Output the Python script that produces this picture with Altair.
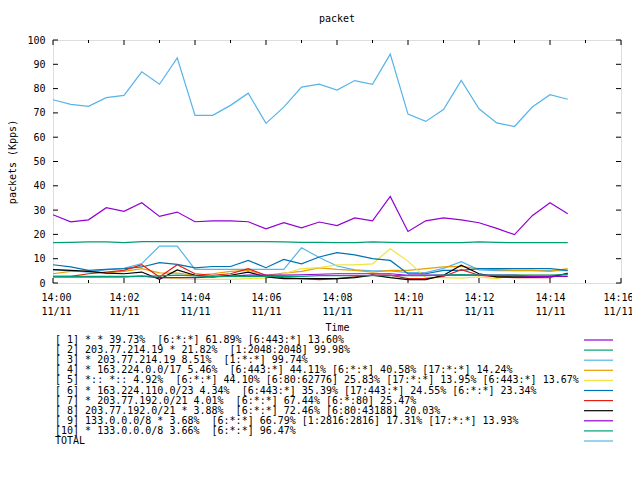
import altair as alt
import pandas as pd

# ---------------- data ----------------
times = [f"2020-11-11T14:{(i * 30) // 60:02d}:{(i * 30) % 60:02d}" for i in range(30)]

s1 = [28.1, 25.2, 26.0, 31.0, 29.5, 33.0, 27.4, 29.2, 25.2, 25.6, 25.6, 25.2, 22.3, 24.8, 22.7,
      25.1, 23.6, 26.8, 25.6, 35.6, 21.2, 25.6, 26.8, 26.0, 24.8, 22.5, 19.9, 27.7, 33.0, 28.5]
s2 = [16.6, 16.7, 16.9, 16.9, 16.6, 17.0, 17.0, 17.0, 17.0, 17.0, 17.0, 17.0, 17.0, 16.9, 16.7,
      16.7, 16.6, 16.6, 16.9, 16.7, 16.6, 16.6, 16.6, 16.6, 16.9, 16.7, 16.6, 16.6, 16.6, 16.6]
s3 = [5.5, 5.0, 4.5, 5.5, 6.0, 8.0, 15.2, 15.2, 5.6, 5.6, 5.6, 5.6, 5.6, 5.6, 14.5,
      10.5, 7.0, 5.4, 5.0, 5.0, 4.3, 4.3, 6.0, 8.8, 5.4, 5.1, 5.1, 5.1, 5.1, 5.1]
s4 = [3.8, 4.8, 4.8, 4.2, 4.8, 5.9, 4.2, 4.1, 3.2, 3.8, 4.8, 5.2, 3.2, 4.1, 4.8,
      6.2, 5.6, 5.2, 4.5, 5.2, 5.2, 5.9, 6.6, 6.8, 5.9, 5.5, 5.2, 5.2, 4.8, 5.9]
s5 = [2.5, 2.3, 2.3, 2.5, 2.5, 2.8, 2.2, 1.8, 1.5, 1.5, 1.5, 1.8, 2.0, 3.8, 5.9,
      6.3, 7.5, 7.5, 7.9, 14.1, 9.0, 2.2, 2.2, 2.0, 2.5, 1.8, 3.3, 3.3, 3.3, 3.0]
s6 = [7.5, 6.6, 5.2, 5.6, 5.9, 6.6, 8.4, 7.7, 6.2, 6.8, 6.8, 9.3, 6.3, 9.7, 7.9,
      10.7, 12.5, 11.6, 10.0, 9.3, 3.8, 3.8, 5.2, 5.2, 5.9, 5.9, 5.9, 5.9, 5.9, 5.2]
s7 = [2.7, 2.7, 3.8, 4.5, 5.2, 7.5, 2.5, 7.5, 3.8, 3.2, 3.8, 5.9, 3.2, 2.2, 1.8,
      1.4, 1.8, 2.5, 3.2, 3.2, 1.8, 1.8, 2.7, 5.5, 3.2, 2.5, 2.2, 2.2, 2.2, 4.1]
s8 = [5.5, 5.2, 4.8, 4.1, 3.8, 4.5, 1.5, 5.4, 3.2, 2.5, 3.2, 4.5, 2.5, 1.8, 1.8,
      1.8, 1.8, 2.2, 3.2, 2.2, 1.4, 1.4, 3.2, 7.3, 3.8, 2.5, 2.5, 2.5, 2.7, 3.8]
s9 = [2.5, 2.5, 2.5, 2.5, 2.5, 2.8, 2.2, 2.2, 2.2, 2.5, 2.8, 3.2, 3.2, 3.2, 3.4,
      3.6, 3.8, 3.8, 3.8, 3.8, 3.2, 3.2, 3.2, 3.2, 3.2, 3.2, 3.2, 2.7, 2.7, 2.7]
s10 = [2.7, 2.7, 2.7, 2.7, 2.7, 2.7, 2.9, 3.2, 2.9, 2.7, 2.7, 2.7, 2.7, 2.7, 2.7,
       3.0, 3.0, 3.0, 3.0, 3.0, 3.0, 3.0, 3.2, 3.5, 3.2, 3.2, 3.2, 3.2, 3.2, 3.5]
total = [75.4, 73.5, 72.7, 76.3, 77.2, 86.9, 81.8, 92.6, 69.0, 69.0, 73.1, 78.1, 65.7, 72.4, 80.6,
         81.8, 79.4, 83.3, 81.8, 94.2, 69.5, 66.5, 71.4, 83.4, 71.7, 65.9, 64.4, 72.4, 77.5, 75.6]

labels = [
    "[ 1] * * 39.73%  [6:*:*] 61.89% [6:443:*] 13.60%",
    "[ 2] 203.77.214.19 * 21.82%  [1:2048:2048] 99.98%",
    "[ 3] * 203.77.214.19 8.51%  [1:*:*] 99.74%",
    "[ 4] * 163.224.0.0/17 5.46%  [6:443:*] 44.11% [6:*:*] 40.58% [17:*:*] 14.24%",
    "[ 5] *:: *:: 4.92%  [6:*:*] 44.10% [6:80:62776] 25.83% [17:*:*] 13.95% [6:443:*] 13.67%",
    "[ 6] * 163.224.110.0/23 4.34%  [6:443:*] 35.39% [17:443:*] 24.55% [6:*:*] 23.34%",
    "[ 7] * 203.77.192.0/21 4.01%  [6:*:*] 67.44% [6:*:80] 25.47%",
    "[ 8] 203.77.192.0/21 * 3.88%  [6:*:*] 72.46% [6:80:43188] 20.03%",
    "[ 9] 133.0.0.0/8 * 3.68%  [6:*:*] 66.79% [1:2816:2816] 17.31% [17:*:*] 13.93%",
    "[10] * 133.0.0.0/8 3.66%  [6:*:*] 96.47%",
    "TOTAL",
]
series = [s1, s2, s3, s4, s5, s6, s7, s8, s9, s10, total]
colors = ["#9400D3", "#009E73", "#56B4E9", "#E69F00", "#F0E442", "#0072B2",
          "#E51E10", "#000000", "#9400D3", "#009E73", "#56B4E9"]

major_min = [0, 2, 4, 6, 8, 10, 12, 14, 16]
minor_min = [1, 3, 5, 7, 9, 11, 13, 15]
y_ticks = [0, 10, 20, 30, 40, 50, 60, 70, 80, 90, 100]

# ---------------- layout ----------------
W, H = 568, 243
FONT = "DejaVu Sans Mono"
FS = 10

def dt(m):
    return alt.DateTime(year=2020, month=11, date=11, hours=14, minutes=m)

xscale = alt.Scale(domain=[dt(0), dt(16)])
yscale = alt.Scale(domain=[0, 100], nice=False)

x_axis = alt.Axis(
    values=[dt(m) for m in major_min],
    labelExpr="[timeFormat(datum.value, '%H:%M'), timeFormat(datum.value, '%m/%d')]",
    labelLineHeight=14, labelPadding=9, tickSize=0, domain=False, grid=False,
    labelFont=FONT, labelFontSize=FS, labelColor="black",
    labelFlush=True, labelFlushOffset=12,
    title="Time", titleFont=FONT, titleFontSize=FS, titleFontWeight="normal",
    titleColor="black", titlePadding=6,
)
y_axis = alt.Axis(
    values=y_ticks, tickSize=0, domain=False, grid=False, labelPadding=8,
    labelFont=FONT, labelFontSize=FS, labelColor="black",
    title="packets (Kpps)", titleFont=FONT, titleFontSize=FS, titleFontWeight="normal",
    titleColor="black", titlePadding=9,
)
X = lambda: alt.X("t:T", scale=xscale, axis=x_axis)
Y = lambda: alt.Y("v:Q", scale=yscale, axis=y_axis)

layers = []
for vals, col in zip(series, colors):
    df = pd.DataFrame({"t": times, "v": vals})
    layers.append(
        alt.Chart(df).mark_line(color=col, strokeWidth=1.2, interpolate="linear").encode(x=X(), y=Y())
    )

# inward ticks (gnuplot style, mirrored)
maj = pd.DataFrame({"t": [f"2020-11-11T14:{m:02d}:00" for m in major_min]})
mnr = pd.DataFrame({"t": [f"2020-11-11T14:{m:02d}:00" for m in minor_min]})
ytk = pd.DataFrame({"v": y_ticks})
for dfk, ln in ((maj, 5), (mnr, 3)):
    layers.append(alt.Chart(dfk).mark_rule(color="black", strokeWidth=1).encode(
        x=X(), y=alt.value(H), y2=alt.value(H - ln)))
    layers.append(alt.Chart(dfk).mark_rule(color="black", strokeWidth=1).encode(
        x=X(), y=alt.value(0), y2=alt.value(ln)))
layers.append(alt.Chart(ytk).mark_rule(color="black", strokeWidth=1).encode(
    y=Y(), x=alt.value(0), x2=alt.value(5)))
layers.append(alt.Chart(ytk).mark_rule(color="black", strokeWidth=1).encode(
    y=Y(), x=alt.value(W), x2=alt.value(W - 5)))

# key below the plot: text on the left, line sample on the right
for i, (lab, col) in enumerate(zip(labels, colors)):
    ypos = 300 + 10.1 * i
    kdf = pd.DataFrame({"label": [lab.replace("  ", "\u00a0 ")]})
    layers.append(alt.Chart(kdf).mark_text(
        align="left", baseline="middle", font=FONT, fontSize=FS, color="black"
    ).encode(x=alt.value(2), y=alt.value(ypos), text="label:N"))
    layers.append(alt.Chart(kdf).mark_rule(color=col, strokeWidth=1.2).encode(
        x=alt.value(531), x2=alt.value(560), y=alt.value(ypos)))

chart = alt.layer(*layers).properties(
    width=W, height=H,
    title=alt.TitleParams("packet", font=FONT, fontSize=FS, fontWeight="normal",
                          color="black", anchor="middle", offset=11),
    autosize=alt.AutoSizeParams(type="none"),
    padding={"left": 45, "top": 32, "right": 11, "bottom": 180},
).configure_view(stroke="black", strokeWidth=1).configure(background="white")

chart.save("out.html", embed_options={"renderer": "svg", "actions": False})
